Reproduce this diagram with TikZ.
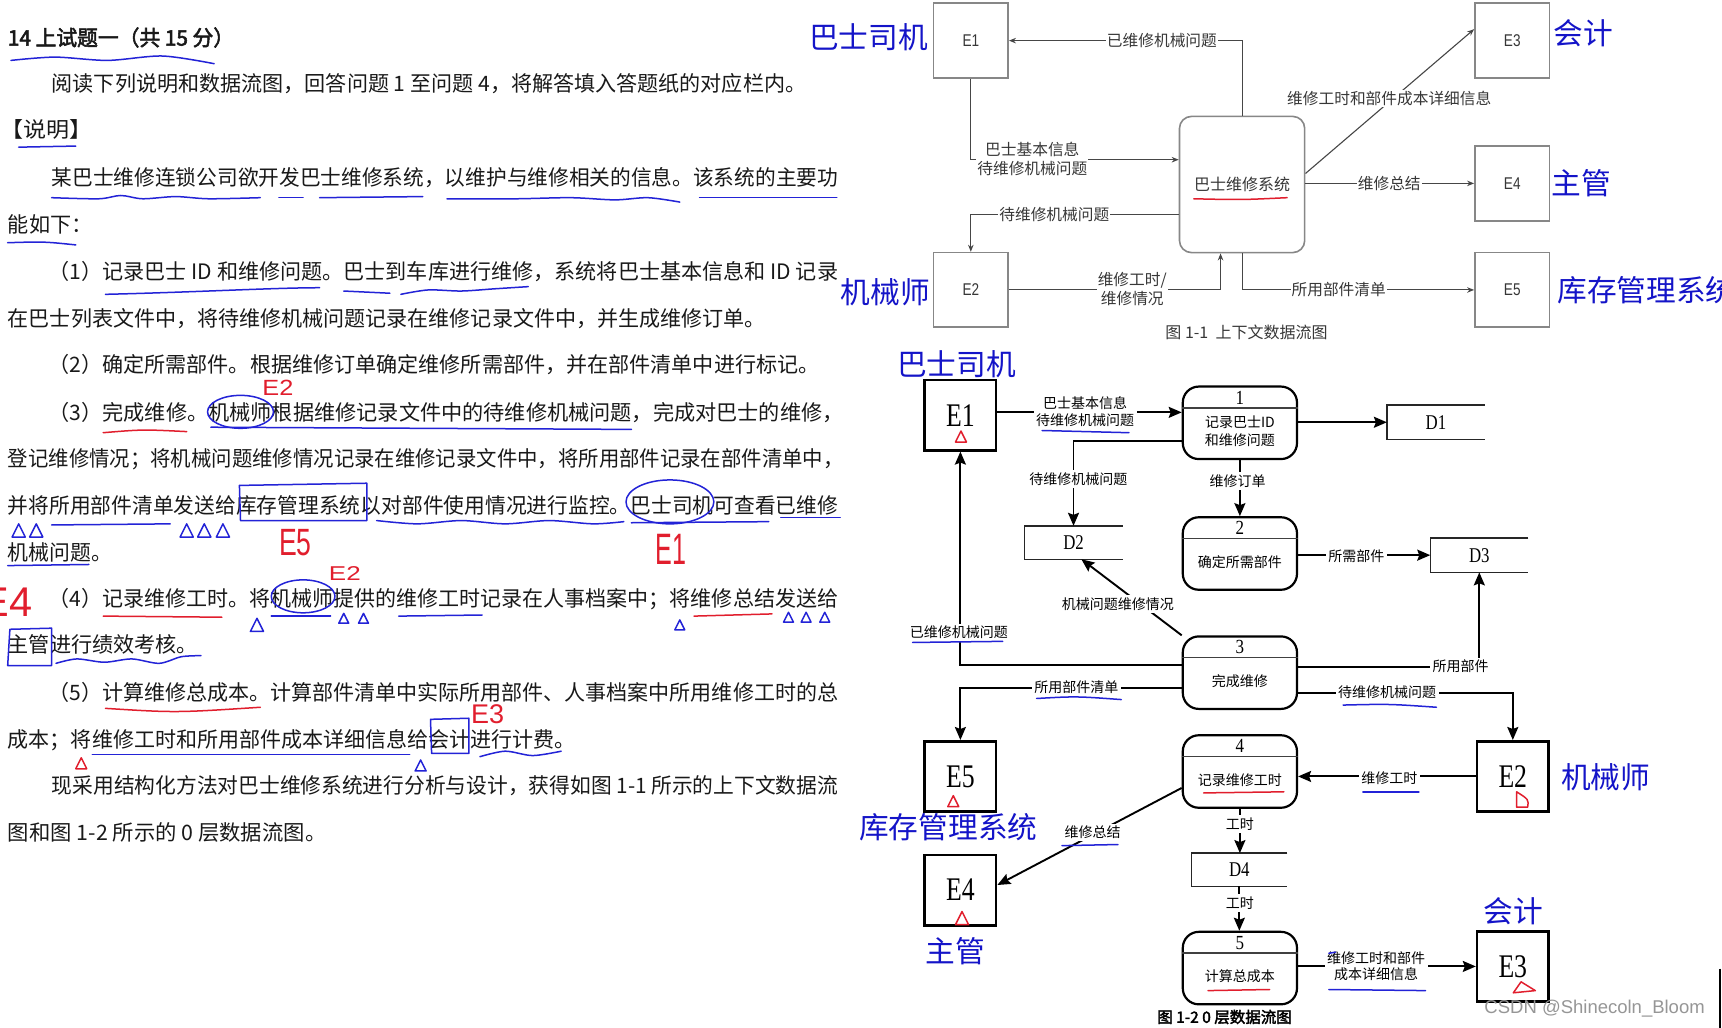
\documentclass[tikz,border=0pt]{standalone}
\usepackage{fontspec}
\usepackage{graphicx}
\setmainfont{Noto Sans CJK SC}
\newfontfamily\cjkb{Noto Sans CJK SC}[FakeBold=2.5]
\newfontfamily\serifE{Liberation Serif}
\newfontfamily\sansE{Liberation Sans}
\usetikzlibrary{calc,arrows.meta}
\definecolor{bodytxt}{RGB}{25,25,25}
\definecolor{penblue}{RGB}{35,35,215}
\definecolor{penred}{RGB}{225,30,45}
\definecolor{labblue}{RGB}{20,20,200}
\definecolor{tgray}{RGB}{135,135,135}
\definecolor{tline}{RGB}{70,70,70}
\definecolor{ttext}{RGB}{55,55,55}
\definecolor{wm}{RGB}{150,150,150}
\newlength\jlen
\newcommand\bodyfont{\fontsize{21.25pt}{24pt}\selectfont}
\newcommand\tline[4]{%
  \pgfmathsetmacro\jw{(#2-#1)*1.0982}%
  \node[anchor=base west,inner sep=0pt,text=bodytxt] at (#1,#3+7.5) {\bodyfont\settowidth\jlen{#4}\pgfmathsetmacro\jf{\jw/\jlen}\scalebox{\jf}[1]{#4}};}
\newcommand\htri[4]{\draw[#4] (#1-#3/2,#2+#3/2) -- (#1,#2-#3/2) -- (#1+#3/2,#2+#3/2) -- cycle;}
\newcommand\rh[5]{\node[text=penred,inner sep=0pt,font=\sansE\fontsize{#3pt}{#3pt}\selectfont] at (#1,#2) {\scalebox{#4}[1]{#5}};}
\newcommand\storebox[1]{\draw[line width=1.4pt,draw=black!85] (#1.north east) -- (#1.north west) -- (#1.south west) -- (#1.south east);}
\begin{document}
\begin{tikzpicture}[x=1.0982pt,y=-1.0982pt,
  tbox/.style={draw=tgray,line width=1.6pt,minimum width=74.7pt,minimum height=74.7pt,inner sep=0pt,text=ttext,font=\sansE\fontsize{17pt}{17pt}\selectfont},
  tproc/.style={draw=tgray,line width=1.6pt,rounded corners=12pt,minimum width=125.2pt,minimum height=136.2pt,inner sep=0pt,text=ttext,font=\fontsize{16pt}{18pt}\selectfont},
  ta/.style={draw=tline,line width=1.1pt,-{Stealth[length=7pt,width=5.5pt]}},
  tlab/.style={fill=white,inner sep=1pt,text=ttext,align=center,font=\fontsize{15.7pt}{18.7pt}\selectfont},
  bent/.style={draw=black,line width=2.6pt,minimum width=71.4pt,minimum height=70.3pt,inner sep=0pt,font=\serifE\fontsize{33pt}{33pt}\selectfont},
  bproc/.style={draw=black,line width=2.2pt,rounded corners=16pt,minimum width=114.2pt,minimum height=72.5pt,inner sep=0pt},
  bstore/.style={minimum width=97.7pt,minimum height=34pt,inner sep=0pt,font=\serifE\fontsize{21pt}{21pt}\selectfont},
  ba/.style={draw=black,line width=1.9pt,-{Stealth[length=13pt,width=11pt,inset=2pt]}},
  blab/.style={fill=white,inner sep=2.5pt,align=center,font=\fontsize{14pt}{16.5pt}\selectfont},
  ptext/.style={inner sep=0pt,align=center,font=\fontsize{14pt}{17.5pt}\selectfont},
  pnum/.style={inner sep=0pt,font=\serifE\fontsize{20pt}{20pt}\selectfont},
  elab/.style={inner sep=0pt,text=labblue,font=\fontsize{29.7pt}{30pt}\selectfont},
  hb/.style={draw=penblue,line width=1.5pt,line cap=round,line join=round},
  hr/.style={draw=penred,line width=1.5pt,line cap=round,line join=round}]
\useasboundingbox (0,0) rectangle (1568,936);
\fill[white] (0,0) rectangle (1568,936);

% ---------------- left text ----------------
\tline{7}{213}{34}{\cjkb 14 上试题一（共 15 分）}
\tline{47}{734}{76}{阅读下列说明和数据流图，回答问题 1 至问题 4，将解答填入答题纸的对应栏内。}
\tline{0}{84}{118}{【说明】}
\tline{47}{763}{161}{某巴士维修连锁公司欲开发巴士维修系统，以维护与维修相关的信息。该系统的主要功}
\tline{7}{84}{204}{能如下：}
\tline{44}{763}{247}{（1）记录巴士 ID 和维修问题。巴士到车库进行维修，系统将巴士基本信息和 ID 记录}
\tline{7}{697}{290}{在巴士列表文件中，将待维修机械问题记录在维修记录文件中，并生成维修订单。}
\tline{44}{746}{332}{（2）确定所需部件。根据维修订单确定维修所需部件，并在部件清单中进行标记。}
\tline{44}{768}{375}{（3）完成维修。机械师根据维修记录文件中的待维修机械问题，完成对巴士的维修，}
\tline{7}{768}{417}{登记维修情况；将机械问题维修情况记录在维修记录文件中，将所用部件记录在部件清单中，}
\tline{7}{763}{460}{并将所用部件清单发送给库存管理系统以对部件使用情况进行监控。巴士司机可查看已维修}
\tline{7}{102}{503}{机械问题。}
\tline{44}{763}{545}{（4）记录维修工时。将机械师提供的维修工时记录在人事档案中；将维修总结发送给}
\tline{7}{180}{587}{主管进行绩效考核。}
\tline{44}{763}{630}{（5）计算维修总成本。计算部件清单中实际所用部件、人事档案中所用维修工时的总}
\tline{7}{524}{673}{成本；将维修工时和所用部件成本详细信息给会计进行计费。}
\tline{47}{763}{715}{现采用结构化方法对巴士维修系统进行分析与设计，获得如图 1-1 所示的上下文数据流}
\tline{7}{297}{758}{图和图 1-2 所示的 0 层数据流图。}

% ---------------- hand annotations on text ----------------
\draw[hb] plot[smooth] coordinates {(10,55) (50,52) (98,55) (148,51) (195,58)};
\draw[hb] (17,134) -- (69,133);
\draw[hb] plot[smooth] coordinates {(47,180) (90,181) (110,178) (130,181) (160,179) (190,181) (237,180)};
\draw[hb] (254,180) -- (276,180);
\draw[hb] (291,180) -- (385,179);
\draw[hb] plot[smooth] coordinates {(407,181) (470,181) (520,180) (560,182) (590,180) (619,184)};
\draw[hb] (637,180) -- (762,180);
\draw[hb] (7,221) .. controls (40,220) .. (69,223);
\draw[hb] (96,268) .. controls (180,266) and (250,262) .. (291,262);
\draw[hb] (313,265) -- (355,267);
\draw[hb] plot[smooth] coordinates {(365,268) (390,264) (420,265) (450,263) (481,261)};
\draw[hr] (94,394) .. controls (130,391) .. (170,393);
\draw[hb] (219,375) ellipse [x radius=30, y radius=15];
\draw[hb] (192,389) -- (575,391);
\rh{253}{353}{22}{1.15}{E2}
\draw[hb] (218,442) -- (334,440) -- (334,474) -- (219,474) -- cycle;
\htri{17}{483}{12}{hb}\htri{33}{483}{12}{hb}
\draw[hb] (47,478) -- (155,477);
\htri{170}{483}{12}{hb}\htri{186}{483}{12}{hb}\htri{203}{483}{12}{hb}
\rh{269}{494}{38}{0.7}{E5}
\draw[hb] plot[smooth] coordinates {(343,474) (380,477) (420,474) (460,477) (500,474) (540,477) (568,475)};
\draw[hb] (610,457) ellipse [x radius=40, y radius=20];
\draw[hb] (575,476) -- (700,475);
\draw[hb] (711,471) -- (765,471);
\rh{611}{500}{44}{0.57}{E1}
\draw[hb] (7,515) -- (81,514);
\rh{314}{522}{20}{1.3}{E2}
\node[text=penred,inner sep=0pt,anchor=east,font=\sansE\fontsize{41.5pt}{41.5pt}\selectfont] at (30,548) {E4};
\draw[hr] (94,561) -- (202,562);
\draw[hb] (276,543) ellipse [x radius=29, y radius=15];
\draw[hb] (247,561) -- (301,561);
\htri{234}{569}{12}{hb}
\htri{313}{563}{9}{hb}\htri{331}{563}{9}{hb}
\draw[hb] (363,561) -- (439,560);
\htri{619}{569}{9}{hb}
\draw[hr] (632,561) -- (703,559);
\htri{718}{562}{9}{hb}\htri{734}{562}{9}{hb}\htri{751}{562}{9}{hb}
\draw[hb] (9,573) -- (7,606) -- (47,606) -- (47,572) -- (9,573);
\draw[hb] plot[smooth] coordinates {(51,604) (70,600) (95,603) (120,600) (145,604) (165,598) (183,597)};
\draw[hr] (96,645) .. controls (160,649) .. (237,644);
\htri{74}{695}{10}{hr}
\draw[hb] (84,687) -- (373,687);
\htri{383}{697}{10}{hb}
\draw[hb] (392,655) -- (427,654) -- (427,686) -- (393,686) -- cycle;
\rh{444}{650}{27}{1}{E3}
\draw[hb] plot[smooth] coordinates {(437,689) (460,684) (485,688) (511,684)};

% ---------------- top diagram: context DFD ----------------
\node[tbox] (E1t) at (884,37) {\scalebox{0.8}[1]{E1}};
\node[tbox] (E3t) at (1377,37) {\scalebox{0.8}[1]{E3}};
\node[tbox] (E4t) at (1377,167) {\scalebox{0.8}[1]{E4}};
\node[tbox] (E5t) at (1377,264) {\scalebox{0.8}[1]{E5}};
\node[tbox] (E2t) at (884,264) {\scalebox{0.8}[1]{E2}};
\node[tproc] (Pt) at (1131,168) {巴士维修系统};
\draw[ta] (Pt.north) |- (E1t.east);
\draw[ta] (E1t.south) |- ($(Pt.north west)!0.32!(Pt.south west)$);
\draw[ta] ($(Pt.north west)!0.72!(Pt.south west)$) -| (E2t.north);
\draw[ta] (E2t.east) -| ($(Pt.south west)!0.33!(Pt.south east)$);
\draw[ta] (Pt.south) |- (E5t.west);
\draw[ta] (Pt.east |- E4t.west) -- (E4t.west);
\draw[ta] ($(Pt.north east)!0.42!(Pt.south east)$) -- ($(E3t.south west)!0.65!(E3t.north west)$);
\node[tlab] at (1058,37) {已维修机械问题};
\node[tlab] at (940,145) {巴士基本信息\\待维修机械问题};
\node[tlab] at (960,195) {待维修机械问题};
\node[tlab] at (1031,263) {维修工时/\\维修情况};
\node[tlab] at (1219,264) {所用部件清单};
\node[tlab] at (1265,167) {维修总结};
\node[tlab] at (1265,90) {维修工时和部件成本详细信息};
\draw[hr] (1087,181) .. controls (1130,182) .. (1172,180);
\node[inner sep=0pt,text=ttext,font=\fontsize{16pt}{16pt}\selectfont] at (1135,303) {图 1-1 \ 上下文数据流图};
\node[elab] at (791,34) {巴士司机};
\node[elab] at (1442,30) {会计};
\node[elab] at (1440,167) {主管};
\node[elab,anchor=west] at (1418,264) {库存管理系统};
\node[elab] at (806,266) {机械师};

% ---------------- bottom diagram: level-0 DFD ----------------
\node[bent] (E1) at (874.5,378) {\scalebox{0.78}[1]{E1}};
\node[bent] (E5) at (874.5,707) {\scalebox{0.78}[1]{E5}};
\node[bent] (E4) at (874.5,810.5) {\scalebox{0.78}[1]{E4}};
\node[bent] (E2) at (1377.5,707) {\scalebox{0.78}[1]{E2}};
\node[bent] (E3) at (1377.5,880) {\scalebox{0.78}[1]{E3}};
\node[bproc] (P1) at (1129,385) {};
\node[bproc] (P2) at (1129,504) {};
\node[bproc] (P3) at (1129,612.5) {};
\node[bproc] (P4) at (1129,702.5) {};
\node[bproc] (P5) at (1129,881.5) {};
\foreach \p/\n in {P1/1,P2/2,P3/3,P4/4,P5/5}{
  \draw[line width=1.3pt,draw=black!75] ($(\p.north west)!0.3!(\p.south west)$) -- ($(\p.north east)!0.3!(\p.south east)$);
  \node[pnum] at ($(\p.north)!0.16!(\p.south)$) {\scalebox{0.85}[1]{\n}};
}
\node[ptext] at ($(P1.north)!0.61!(P1.south)$) {记录巴士ID\\和维修问题};
\node[ptext] at ($(P2.north)!0.61!(P2.south)$) {确定所需部件};
\node[ptext] at ($(P3.north)!0.61!(P3.south)$) {完成维修};
\node[ptext] at ($(P4.north)!0.61!(P4.south)$) {记录维修工时};
\node[ptext] at ($(P5.north)!0.61!(P5.south)$) {计算总成本};
\node[bstore] (D1) at (1307.5,384.5) {\scalebox{0.8}[1]{D1}};
\node[bstore,minimum height=33pt] (D2) at (977.5,494) {\scalebox{0.8}[1]{D2}};
\node[bstore] (D3) at (1347,505.5) {\scalebox{0.8}[1]{D3}};
\node[bstore,minimum width=95.5pt,minimum height=33pt] (D4) at (1128.5,792) {\scalebox{0.8}[1]{D4}};
\storebox{D1}\storebox{D2}\storebox{D3}\storebox{D4}

\coordinate (p1in) at ($(P1.north west)!0.36!(P1.south west)$);
\draw[ba] (E1.east |- p1in) -- (p1in);
\draw[ba] (P1.east |- D1.west) -- (D1.west);
\draw[ba] ($(P1.north west)!0.74!(P1.south west)$) -| (D2.north);
\draw[ba] (P1.south) -- (P2.north);
\draw[ba] (P2.east |- D3.west) -- (D3.west);
\draw[ba] (P3.north west) -- ($(D2.south west)!0.58!(D2.south east)$);
\draw[ba] ($(P3.north west)!0.4!(P3.south west)$) -| (E1.south);
\draw[ba] ($(P3.north east)!0.43!(P3.south east)$) -| (D3.south);
\draw[ba] ($(P3.north west)!0.71!(P3.south west)$) -| (E5.north);
\draw[ba] ($(P3.north east)!0.77!(P3.south east)$) -| (E2.north);
\draw[ba] (E2.west) -- (P4.east |- E2.west);
\draw[ba] ($(P4.north west)!0.72!(P4.south west)$) -- ($(E4.north east)!0.43!(E4.south east)$);
\draw[ba] (P4.south) -- (P4.south |- D4.north);
\draw[ba] (D4.south) -- (D4.south |- P5.north);
\draw[ba] (P5.east |- E3.west) -- (E3.west);

\node[blab] at (988,375) {巴士基本信息\\待维修机械问题};
\node[blab] at (982,436) {待维修机械问题};
\node[blab] at (1127,438) {维修订单};
\node[blab] at (1235,506) {所需部件};
\node[blab] at (1018,550) {机械问题维修情况};
\node[blab] at (873,576) {已维修机械问题};
\node[blab] at (1330,607) {所用部件};
\node[blab] at (980,626) {所用部件清单};
\node[blab] at (1263,630) {待维修机械问题};
\node[blab] at (1265,709) {维修工时};
\node[blab] at (995,758) {维修总结};
\node[blab] at (1129,750) {工时};
\node[blab] at (1129,822) {工时};
\node[blab] at (1253,880) {维修工时和部件\\成本详细信息};
\node[inner sep=0pt,font=\cjkb\fontsize{15.5pt}{15.5pt}\selectfont] at (1115,926) {图 1-2 0 层数据流图};

% blue / red marks on bottom diagram
\draw[hb] (949,392) -- (1028,394);
\draw[hb] (831,585) -- (913,584);
\draw[hb] (944,636) .. controls (980,634) .. (1021,637);
\draw[hb] (1223,642) .. controls (1265,641) .. (1308,644);
\draw[hr] (1096,722) -- (1169,721);
\draw[hb] (1241,721) -- (1292,721);
\draw[hb] (967,770) -- (1018,769);
\draw[hr] (1100,902) -- (1156,901);
\draw[hb] (1210,901) -- (1298,902);
\draw[hb] (1210,868) -- (1216,867);
\htri{875}{397.5}{10}{hr}
\htri{868}{729.5}{10}{hr}
\htri{876}{836}{12}{hr}
\draw[hr] (1381,721) -- (1381,735) -- (1391,735) .. controls (1392,728) .. (1381,721);
\draw[hr] (1378,904) -- (1385,894) -- (1398,902) -- cycle;

\node[elab] at (871,332) {巴士司机};
\node[elab] at (863.5,753) {库存管理系统};
\node[elab] at (1462,708) {机械师};
\node[elab] at (870,866) {主管};
\node[elab] at (1378,830) {会计};

\node[inner sep=0pt,text=wm,font=\sansE\fontsize{18.5pt}{18.5pt}\selectfont] at (1452,918) {CSDN @Shinecoln\_Bloom};
\draw[line width=1.5pt] (1566,882) -- (1566,936);
\end{tikzpicture}
\end{document}
